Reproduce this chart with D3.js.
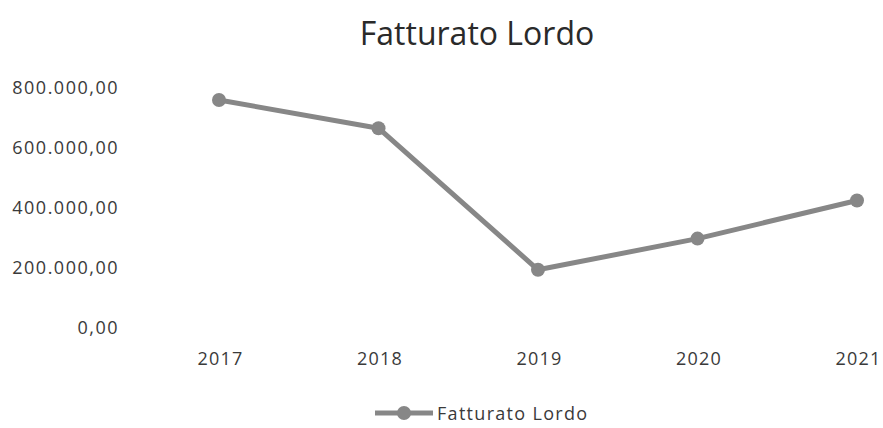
<!DOCTYPE html>
<html>
<head>
<meta charset="utf-8">
<script src="https://cdn.jsdelivr.net/npm/d3@7"></script>
<style>
body { margin: 0; background: #fff; }
text { font-family: "Open Sans", sans-serif; }
</style>
</head>
<body>
<svg id="chart" width="883" height="428"></svg>
<script>
var years = ["2017", "2018", "2019", "2020", "2021"];
var fatturato = [760000, 666000, 194000, 298000, 425000];
var yTicks = [0, 200000, 400000, 600000, 800000];
var title = "Fatturato Lordo";
var seriesName = "Fatturato Lordo";

var svg = d3.select("#chart");
var grey = "#878787";
var textCol = "#3a3a3a";

var x = d3.scalePoint().domain(years).range([219, 857]);
var y = d3.scaleLinear().domain([0, 800000]).range([328, 88]);

// formato italiano 800.000,00
var it = d3.formatLocale({decimal: ",", thousands: ".", grouping: [3], currency: ["€", ""]});
var fmt = it.format(",.2f");

svg.append("text")
  .attr("x", 477).attr("y", 45)
  .attr("text-anchor", "middle")
  .attr("font-size", 32)
  .attr("fill", "#2a2a2a")
  .text(title);

var yAxis = svg.append("g")
  .attr("transform", "translate(119,0)")
  .call(d3.axisLeft(y).tickValues(yTicks).tickFormat(fmt).tickSize(0).tickPadding(0));
yAxis.select(".domain").remove();
yAxis.selectAll("text")
  .attr("font-size", 18).attr("fill", textCol)
  .attr("letter-spacing", 1.5).attr("font-family", "Open Sans");

var xAxis = svg.append("g")
  .attr("transform", "translate(1,352)")
  .call(d3.axisBottom(x).tickSize(0).tickPadding(0));
xAxis.select(".domain").remove();
xAxis.selectAll("text")
  .attr("font-size", 18).attr("fill", textCol)
  .attr("letter-spacing", 1.2).attr("font-family", "Open Sans");

var line = d3.line()
  .x(function(d, i) { return x(years[i]); })
  .y(function(d) { return y(d); });

svg.append("path")
  .datum(fatturato)
  .attr("d", line)
  .attr("fill", "none")
  .attr("stroke", grey)
  .attr("stroke-width", 5)
  .attr("stroke-linejoin", "round");

svg.selectAll("circle.pt")
  .data(fatturato)
  .enter().append("circle")
  .attr("class", "pt")
  .attr("cx", function(d, i) { return x(years[i]); })
  .attr("cy", function(d) { return y(d); })
  .attr("r", 7)
  .attr("fill", grey);

// legenda
var lg = svg.append("g").attr("transform", "translate(375,413)");
lg.append("line").attr("x1", 0).attr("x2", 58).attr("y1", 0).attr("y2", 0)
  .attr("stroke", grey).attr("stroke-width", 5);
lg.append("circle").attr("cx", 29).attr("cy", 0).attr("r", 7).attr("fill", grey);
lg.append("text").attr("x", 62).attr("y", 6.5)
  .attr("font-size", 18).attr("fill", textCol)
  .attr("letter-spacing", 1.3)
  .text(seriesName);
</script>
</body>
</html>
